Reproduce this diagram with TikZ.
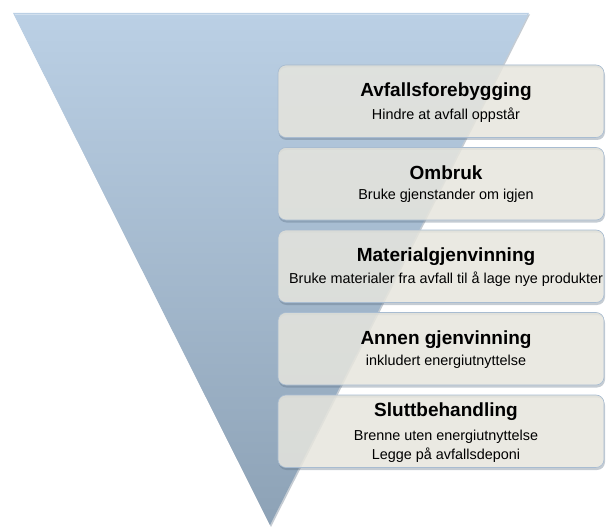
\documentclass[tikz,border=0pt]{standalone}
\usepackage{fontspec}
\setmainfont{Liberation Sans}
\definecolor{tritop}{HTML}{BBD0E5}
\definecolor{tribot}{HTML}{8DA2B6}
\definecolor{boxfill}{HTML}{E6E5DD}
\definecolor{boxline}{HTML}{A8BCD1}
\definecolor{shadowc}{HTML}{5A6E82}
\tikzset{
  levelbox/.style={rounded corners=8pt, fill=boxfill, fill opacity=0.85, draw=boxline, line width=0.6pt},
  boxshadow/.style={rounded corners=8pt, fill=shadowc, fill opacity=0.35, even odd rule},
  title/.style={anchor=base, inner sep=0pt, font=\fontsize{19}{22}\selectfont\bfseries},
  sub/.style={anchor=base, inner sep=0pt, font=\fontsize{14.4}{17}\selectfont},
}
\begin{document}
\begin{tikzpicture}[x=1pt,y=-1pt]
\useasboundingbox (0,0) rectangle (606,527);
% triangle shadow
\fill[shadowc, opacity=0.35] (14,14.5) -- (530,14.5) -- (271,527) -- cycle;
% triangle
\shade[top color=tritop, bottom color=tribot, draw=none] (13,13) -- (529,13) -- (270,525) -- cycle;
\draw[white, opacity=0.35, line width=0.8pt] (15,14) -- (527,14);
% boxes
\foreach \t/\n in {65/b1, 147.5/b2, 230/b3, 312.5/b4, 395/b5} {
  \fill[boxshadow] (278.5,\t+2.5) rectangle (605,\t+75) (278,\t) rectangle (604,\t+72.5);
  \draw[levelbox] (278,\t) rectangle (604,\t+72.5);
}
\node[title] (t1) at (446,96) {Avfallsforebygging};
\node[sub]   (s1) at (446,120) {Hindre at avfall oppstår};
\node[title] (t2) at (446,179) {Ombruk};
\node[sub]   (s2) at (446,200) {Bruke gjenstander om igjen};
\node[title] (t3) at (446,261.5) {Materialgjenvinning};
\node[sub]   (s3) at (446,283) {Bruke materialer fra avfall til å lage nye produkter};
\node[title] (t4) at (446,344) {Annen gjenvinning};
\node[sub]   (s4) at (446,365.5) {inkludert energiutnyttelse};
\node[title] (t5) at (446,416) {Sluttbehandling};
\node[sub]   (s5a) at (446,440) {Brenne uten energiutnyttelse};
\node[sub]   (s5b) at (446,459.5) {Legge på avfallsdeponi};
\end{tikzpicture}
\end{document}
